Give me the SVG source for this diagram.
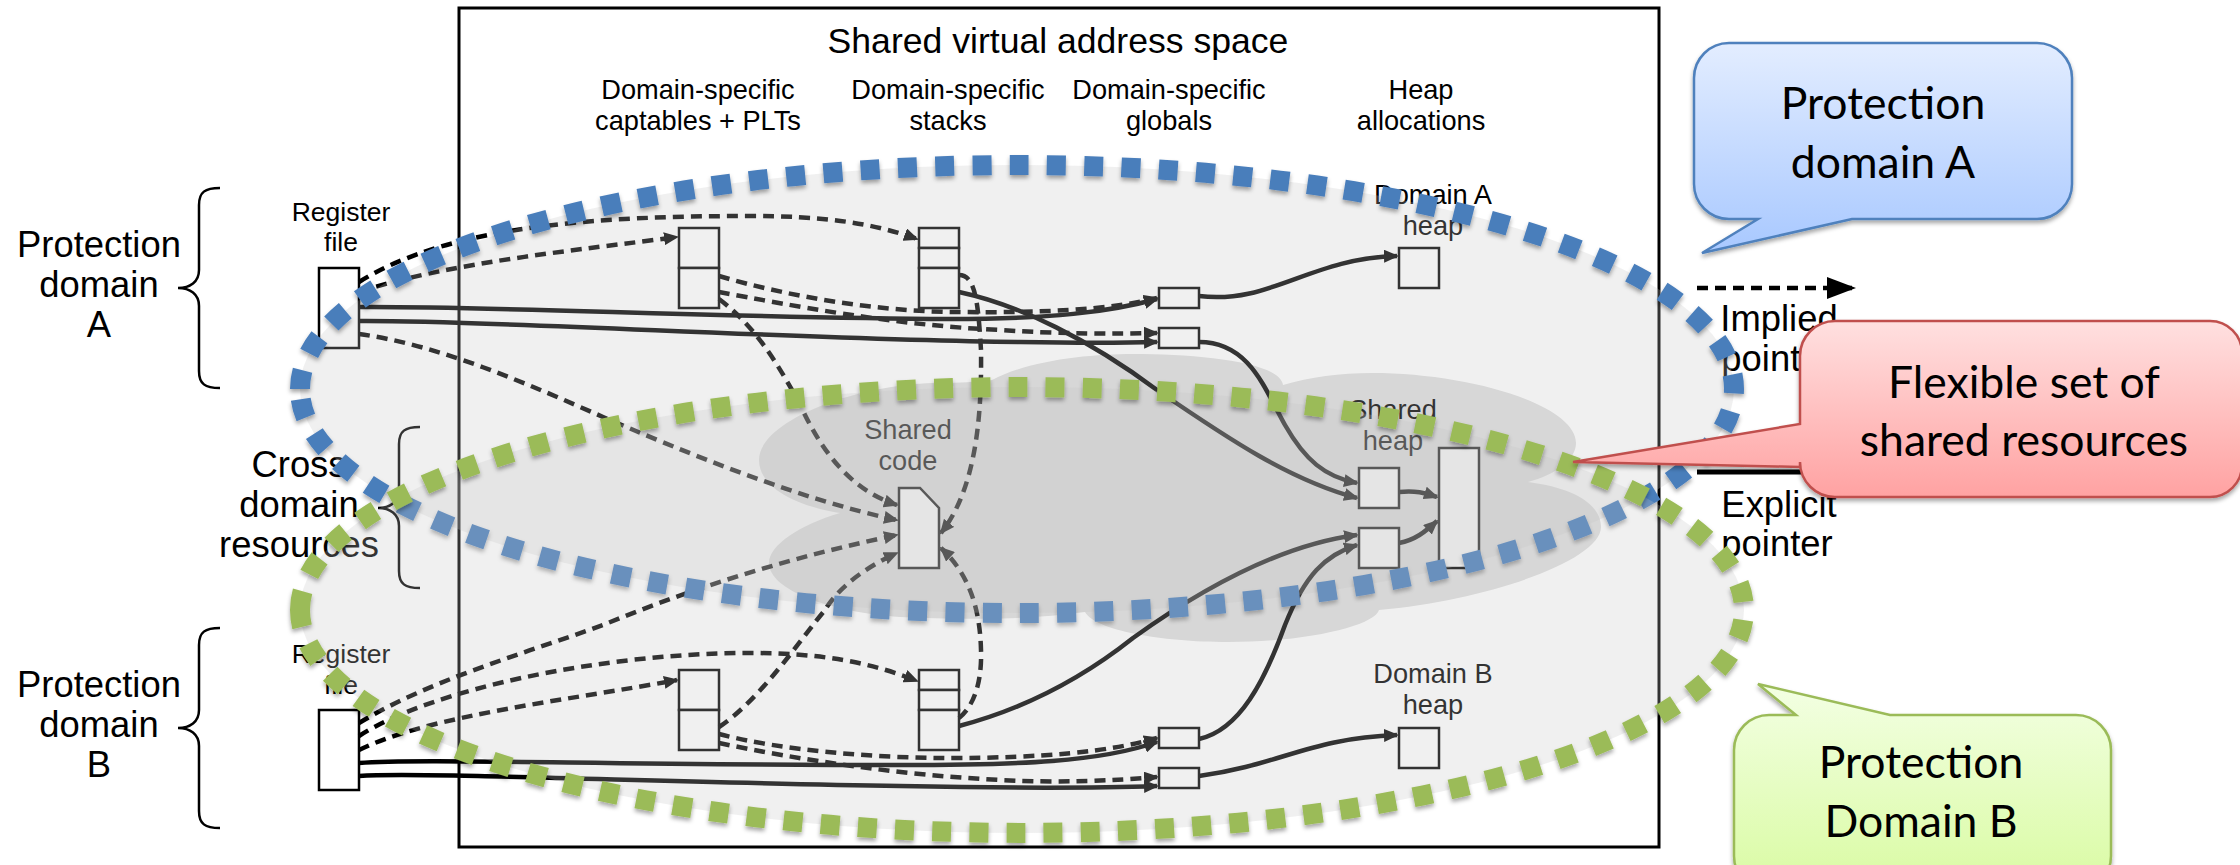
<svg xmlns="http://www.w3.org/2000/svg" width="2240" height="865" viewBox="0 0 2240 865">
<style>
text{font-family:"Liberation Sans",Arial,sans-serif;fill:#000;text-anchor:middle}
.t26{font-size:26.5px}.t27{font-size:27.2px}.t35{font-size:36.4px}.t34{font-size:35.6px}
.gill{font-family:Lato,"Liberation Sans",sans-serif;font-size:44.5px}
.box{fill:#fff;stroke:#000;stroke-width:2.5}
.brace{fill:none;stroke:#000;stroke-width:2.5}
.solid,.dash{fill:none;stroke:#000;stroke-width:4.5;marker-end:url(#ah)}
.dash{stroke-dasharray:11 7}
.efill{fill:#c4c4c4;fill-opacity:.26}
.dots{fill:none;stroke-width:20;filter:url(#sh)}
</style>
<defs>
<marker id="ah" markerUnits="userSpaceOnUse" markerWidth="15" markerHeight="13" refX="13" refY="6.5" orient="auto"><path d="M0 0L15 6.5L0 13Z" fill="#000"/></marker>
<marker id="ahl" markerUnits="userSpaceOnUse" markerWidth="29" markerHeight="22" refX="29" refY="11" orient="auto"><path d="M0 0L29 11L0 22Z" fill="#000"/></marker>
<filter id="sh" x="-5%" y="-5%" width="110%" height="110%"><feDropShadow dx="0" dy="3" stdDeviation="2" flood-color="#000" flood-opacity=".35"/></filter>
<linearGradient id="gb" x1="0" y1="0" x2="0" y2="1"><stop offset="0" stop-color="#e3edff"/><stop offset="1" stop-color="#a8c8ff"/></linearGradient>
<linearGradient id="gr" x1="0" y1="0" x2="0" y2="1"><stop offset="0" stop-color="#ffe0e0"/><stop offset="1" stop-color="#ffa2a2"/></linearGradient>
<linearGradient id="gg" x1="0" y1="0" x2="0" y2="1"><stop offset="0" stop-color="#f3ffe3"/><stop offset="1" stop-color="#d9fba2"/></linearGradient>
</defs>
<rect width="2240" height="865" fill="#fff"/>
<path id="shared-cloud" fill="#dedede" d="M992 380C1030 360 1090 354 1133 354C1200 354 1280 362 1283 385C1310 377 1340 373 1372 373C1470 373 1576 405 1576 443C1576 460 1555 475 1528 482C1575 488 1601 505 1601 527C1601 560 1490 600 1379 610C1375 625 1310 642 1228 642C1160 642 1095 630 1085 612C1030 620 960 620 900 617C830 612 769 590 769 563C769 545 800 525 840 513C790 505 759 485 759 460C759 420 860 383 940 383C960 383 975 382 992 380Z"/>
<g id="address-space"><rect x="459" y="8" width="1200" height="839" fill="none" stroke="#000" stroke-width="3"/>
<text class="t34" x="1058" y="53">Shared virtual address space</text>
<text class="t27" x="698" y="99">Domain-specific</text><text class="t27" x="698" y="130">captables + PLTs</text>
<text class="t27" x="948" y="99">Domain-specific</text><text class="t27" x="948" y="130">stacks</text>
<text class="t27" x="1169" y="99">Domain-specific</text><text class="t27" x="1169" y="130">globals</text>
<text class="t27" x="1421" y="99">Heap</text><text class="t27" x="1421" y="130">allocations</text></g>
<g id="label-domain-a"><text class="t35" x="99" y="257">Protection</text><text class="t35" x="99" y="297">domain</text><text class="t35" x="99" y="337">A</text><path class="brace" d="M220 188C205 188 199 192 199 205L199 270C199 282 190 288 178 288C190 288 199 294 199 306L199 371C199 384 205 388 220 388"/></g>
<g id="label-cross"><text class="t35" x="299" y="477">Cross</text><text class="t35" x="299" y="517">domain</text><text class="t35" x="299" y="557">resources</text><path class="brace" d="M420 427C405 427 399 431 399 444L399 490C399 502 390 508 378 508C390 508 399 514 399 526L399 571C399 584 405 588 420 588"/></g>
<g id="label-domain-b"><text class="t35" x="99" y="697">Protection</text><text class="t35" x="99" y="737">domain</text><text class="t35" x="99" y="777">B</text><path class="brace" d="M220 628C205 628 199 632 199 645L199 710C199 722 190 728 178 728C190 728 199 734 199 746L199 811C199 824 205 828 220 828"/></g>
<g id="register-a"><text class="t26" x="341" y="221">Register</text><text class="t26" x="341" y="251">file</text><rect class="box" x="319" y="268" width="40" height="80"/></g>
<g id="register-b"><text class="t26" x="341" y="663">Register</text><text class="t26" x="341" y="694">file</text><rect class="box" x="319" y="710" width="40" height="80"/></g>
<g id="captables-a"><rect class="box" x="679" y="228" width="40" height="40"/><rect class="box" x="679" y="268" width="40" height="40"/></g>
<g id="captables-b"><rect class="box" x="679" y="670" width="40" height="40"/><rect class="box" x="679" y="710" width="40" height="40"/></g>
<g id="stack-a"><rect class="box" x="919" y="228" width="40" height="20"/><rect class="box" x="919" y="248" width="40" height="20"/><rect class="box" x="919" y="268" width="40" height="40"/></g>
<g id="stack-b"><rect class="box" x="919" y="670" width="40" height="20"/><rect class="box" x="919" y="690" width="40" height="20"/><rect class="box" x="919" y="710" width="40" height="40"/></g>
<g id="globals-a1"><rect class="box" x="1159" y="288" width="40" height="20"/></g>
<g id="globals-a2"><rect class="box" x="1159" y="328" width="40" height="20"/></g>
<g id="globals-b1"><rect class="box" x="1159" y="728" width="40" height="20"/></g>
<g id="globals-b2"><rect class="box" x="1159" y="768" width="40" height="20"/></g>
<g id="heap-a"><text class="t27" x="1433" y="204">Domain A</text><text class="t27" x="1433" y="235">heap</text><rect class="box" x="1399" y="248" width="40" height="40"/></g>
<g id="heap-b"><text class="t27" x="1433" y="683">Domain B</text><text class="t27" x="1433" y="714">heap</text><rect class="box" x="1399" y="728" width="40" height="40"/></g>
<g id="shared-heap"><text class="t27" x="1393" y="419">Shared</text><text class="t27" x="1393" y="450">heap</text><rect class="box" x="1359" y="468" width="40" height="40"/><rect class="box" x="1359" y="528" width="40" height="40"/><rect class="box" x="1439" y="448" width="40" height="120"/></g>
<g id="shared-code"><text class="t27" x="908" y="439">Shared</text><text class="t27" x="908" y="470">code</text><path class="box" d="M899 488H920L939 508V568H899Z"/></g>
<g id="connectors">
<path class="dash" d="M359 282C450 225 600 216 750 216C820 216 870 222 917 239"/>
<path class="dash" d="M359 292C450 262 580 250 677 237"/>
<path class="solid" d="M359 307C500 306 720 318 950 319C1050 319 1110 312 1157 299"/>
<path class="solid" d="M359 321C500 320 800 340 1020 342C1080 343 1120 343 1157 342"/>
<path class="dash" d="M359 334C440 345 530 385 603 417C680 450 800 500 897 520"/>
<path class="dash" d="M719 276C790 297 880 312 960 312C1040 313 1110 310 1157 298"/>
<path class="dash" d="M719 292C790 305 890 325 1000 330C1060 334 1110 334 1157 333"/>
<path class="dash" d="M719 299C760 330 780 370 798 400C820 450 850 490 897 505"/>
<path class="dash" d="M959 275C975 275 978 300 981 350C982 420 975 490 941 533"/>
<path class="solid" d="M959 292C1020 305 1090 340 1157 390C1230 440 1290 480 1357 498"/>
<path class="solid" d="M1199 296C1270 305 1310 258 1397 256"/>
<path class="solid" d="M1199 342C1250 342 1265 390 1285 425C1305 460 1325 477 1357 483"/>
<path class="solid" d="M1399 492C1415 490 1425 493 1437 497"/>
<path class="solid" d="M1399 543C1415 540 1425 532 1437 521"/>
<path class="dash" d="M359 723C430 680 520 655 603 625C700 585 800 555 897 535"/>
<path class="dash" d="M359 736C430 690 600 653 750 653C820 653 870 662 917 681"/>
<path class="dash" d="M359 750C430 715 570 700 677 680"/>
<path class="solid" d="M359 763C420 758 600 765 900 765C1020 765 1100 762 1157 742"/>
<path class="solid" d="M359 776C420 772 650 782 900 786C1000 788 1100 788 1157 786"/>
<path class="dash" d="M719 727C760 700 800 640 825 610C840 585 870 565 897 553"/>
<path class="dash" d="M719 734C780 750 870 758 950 758C1040 758 1110 752 1157 738"/>
<path class="dash" d="M719 743C800 760 900 775 1000 780C1060 783 1110 781 1157 777"/>
<path class="dash" d="M959 718C975 705 982 680 981 650C980 610 970 575 941 548"/>
<path class="solid" d="M959 726C1020 710 1080 680 1133 638C1200 590 1280 545 1357 535"/>
<path class="solid" d="M1199 739C1240 730 1265 680 1285 625C1305 575 1325 555 1357 545"/>
<path class="solid" d="M1199 776C1280 765 1310 738 1397 735"/>
</g>
<g id="legend">
<path d="M1697 288H1856" fill="none" stroke="#000" stroke-width="4.5" stroke-dasharray="11 7" marker-end="url(#ahl)"/>
<text class="t35" x="1779" y="331">Implied</text><text class="t35" x="1777" y="371">pointer</text>
<path d="M1697 472H1856" fill="none" stroke="#000" stroke-width="5" marker-end="url(#ahl)"/>
<text class="t35" x="1779" y="517">Explicit</text><text class="t35" x="1777" y="556">pointer</text>
</g>
<g id="domain-a-ellipse"><ellipse class="efill" cx="1017" cy="389" rx="717" ry="224"/>
<path class="dots" stroke="#4a7ebb" stroke-dasharray="19 18.3" d="M300 389A717 224 0 0 1 1734 389A717 224 0 0 1 300 389Z"/></g>
<g id="domain-b-ellipse"><ellipse class="efill" cx="1022" cy="610" rx="722" ry="223"/>
<path class="dots" stroke="#9bbb59" stroke-dasharray="19 18.2" d="M300 610A722 223 0 0 1 1744 610A722 223 0 0 1 300 610Z"/></g>
<g id="callout-a" filter="url(#sh)"><path fill="url(#gb)" stroke="#4f81bd" stroke-width="2.5" d="M1729 43H2037A35 35 0 0 1 2072 78V184A35 35 0 0 1 2037 219H1852L1702 253L1758 219H1729A35 35 0 0 1 1694 184V78A35 35 0 0 1 1729 43Z"/></g>
<text class="gill" x="1883" y="119">Protection</text><text class="gill" x="1883" y="178">domain A</text>
<g id="callout-shared" filter="url(#sh)"><path fill="url(#gr)" stroke="#c0504d" stroke-width="2.5" d="M1835 321H2210A32 32 0 0 1 2242 353V465A32 32 0 0 1 2210 497H1835A35 35 0 0 1 1800 462V467L1573 462L1800 424V356A35 35 0 0 1 1835 321Z"/></g>
<text class="gill" x="2024" y="398">Flexible set of</text><text class="gill" x="2024" y="456">shared resources</text>
<g id="callout-b" filter="url(#sh)"><path fill="url(#gg)" stroke="#9bbb59" stroke-width="2.5" d="M1769 715H1796L1758 684L1890 715H2076A35 35 0 0 1 2111 750V856A35 35 0 0 1 2076 891H1769A35 35 0 0 1 1734 856V750A35 35 0 0 1 1769 715Z"/></g>
<text class="gill" x="1921" y="778">Protection</text><text class="gill" x="1921" y="837">Domain B</text>
</svg>
